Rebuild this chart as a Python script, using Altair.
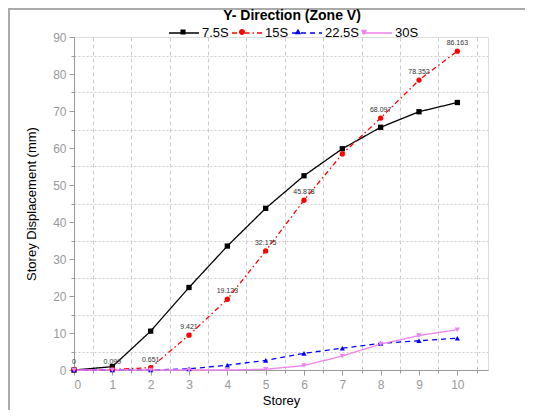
import altair as alt
import pandas as pd

storey = list(range(11))
series = ["7.5S", "15S", "22.5S", "30S"]
s75 = [0, 0.9, 10.5, 22.3, 33.5, 43.7, 52.5, 59.8, 65.6, 69.8, 72.3]
s15 = [0, 0.099, 0.651, 9.421, 19.123, 32.175, 45.878, 58.4, 68.097, 78.352, 86.163]
s225 = [0, 0, 0, 0.3, 1.3, 2.6, 4.5, 5.9, 7.2, 7.9, 8.6]
s30 = [0, 0, 0, 0, 0, 0.2, 1.2, 3.8, 7.0, 9.3, 10.9]
labels15 = ["0", "0.099", "0.651", "9.421", "19.123", "32.175", "45.878", "", "68.097", "78.352", "86.163"]

x_ticks = list(range(11))
x_minor = [i + 0.5 for i in range(11)]
y_ticks = list(range(0, 100, 10))
y_minor = list(range(5, 90, 10))

colors = ["#000000", "#ff0000", "#0000ff", "#ee82ee"]
shapes = ["square", "circle", "triangle-up", "triangle-down"]
legend_marks = [
    "M-1,0L1,0M-0.17,-0.17L0.17,-0.17L0.17,0.17L-0.17,0.17Z",
    "M-1,0L1,0M-0.2,0A0.2,0.2 0 1,0 0.2,0A0.2,0.2 0 1,0 -0.2,0Z",
    "M-1,0L1,0M0,-0.21L0.21,0.15L-0.21,0.15Z",
    "M-1,0L1,0M0,0.21L0.21,-0.15L-0.21,-0.15Z",
]
dashes = [[1, 0], [5, 3, 1.5, 3], [5, 4], [1, 0]]

rows = []
for name, vals in zip(series, [s75, s15, s225, s30]):
    for s, v in zip(storey, vals):
        rows.append({"storey": s, "disp": v, "series": name})
df = pd.DataFrame(rows)
lab = pd.DataFrame({"storey": storey, "disp": s15, "txt": labels15})
lab = lab[lab["txt"] != ""]

FONT = "Liberation Sans"
xs = alt.Scale(domain=[0, 10.8], nice=False, zero=False)
ys = alt.Scale(domain=[0, 90], nice=False)
X0 = alt.X("storey:Q", scale=xs, axis=None)
Y0 = alt.Y("disp:Q", scale=ys, axis=None)

LEG = dict(orient="none", legendX=94, legendY=-20, direction="horizontal", title=None,
           symbolSize=900, labelFont=FONT, labelFontSize=13, labelOffset=2,
           columnPadding=0, symbolOffset=0, padding=0)

base = alt.Chart(df)

grid = base.mark_point(opacity=0).encode(
    x=alt.X("storey:Q", scale=xs, axis=alt.Axis(orient="bottom", values=x_minor, labels=False, title=None,
            domain=False, tickSize=3, tickColor="#999999", grid=True, gridDash=[4, 3], gridColor="#cccccc")),
    y=alt.Y("disp:Q", scale=ys, axis=alt.Axis(orient="left", values=y_minor, labels=False, title=None,
            domain=False, tickSize=3, tickColor="#999999", grid=True, gridDash=[2, 2], gridColor="#cccccc")),
)

main_axes = base.mark_point(opacity=0).encode(
    x=alt.X("storey:Q", scale=xs, axis=alt.Axis(orient="bottom", values=x_ticks, title="Storey", grid=False,
            tickSize=5, tickColor="#999999", domainColor="#999999", labelColor="#999999", labelFontSize=12,
            labelFont=FONT, titleFont=FONT, titleFontSize=13, titleFontWeight="normal", titleColor="#000000",
            labelPadding=4, titlePadding=4)),
    y=alt.Y("disp:Q", scale=ys, axis=alt.Axis(orient="left", values=y_ticks, title="Storey Displacement (mm)",
            grid=False, tickSize=5, tickColor="#999999", domainColor="#999999", labelColor="#999999",
            labelFontSize=12, labelFont=FONT, titleFont=FONT, titleFontSize=13, titleFontWeight="normal",
            titleColor="#000000", labelPadding=3, titlePadding=14)),
)

legA = alt.Legend(symbolType="stroke", symbolStrokeWidth=1.5, labelColor="#000000", **LEG)
lines = base.mark_line(strokeWidth=1.3).encode(
    x=X0, y=Y0,
    color=alt.Color("series:N", scale=alt.Scale(domain=series, range=colors), legend=legA),
    strokeDash=alt.StrokeDash("series:N", scale=alt.Scale(domain=series, range=dashes), legend=legA),
)

points = base.mark_point(filled=True, size=28, opacity=1).encode(
    x=X0, y=Y0,
    color=alt.Color("series:N", scale=alt.Scale(domain=series, range=colors), legend=None),
    shape=alt.Shape("series:N", scale=alt.Scale(domain=series, range=shapes), legend=None),
)

legB = alt.Legend(symbolStrokeColor="transparent", symbolStrokeWidth=0, labelColor="transparent", **LEG)
legend_layer = base.transform_filter("false").mark_point(filled=True, opacity=1).encode(
    x=X0, y=Y0,
    color=alt.Color("series:N", scale=alt.Scale(domain=series, range=colors), legend=legB),
    shape=alt.Shape("series:N", scale=alt.Scale(domain=series, range=legend_marks), legend=legB),
)

texts = alt.Chart(lab).mark_text(fontSize=7, font=FONT, color="#333333", dy=-8).encode(
    x=X0, y=Y0, text="txt:N",
)

# faint frame of the figure (left and top edges)
frame_left = alt.Chart(lab).mark_rule(color="#aaaaaa", strokeWidth=1.5).encode(
    x=alt.value(-65.3), y=alt.value(-29), y2=alt.value(400))
frame_top = alt.Chart(lab).mark_rule(color="#aaaaaa", strokeWidth=1.5).encode(
    x=alt.value(-66), x2=alt.value(470), y=alt.value(-28.3))

chart = alt.layer(grid, main_axes, lines, points, texts, legend_layer, frame_left, frame_top).resolve_axis(
    x="independent", y="independent"
).resolve_scale(color="independent", shape="independent", strokeDash="independent").properties(
    width=414, height=333,
    title=alt.TitleParams("Y- Direction (Zone V)", font=FONT, fontSize=14, fontWeight="bold",
                          anchor="middle", dx=11, dy=13, offset=-3, color="#000000"),
    autosize=alt.AutoSizeParams(type="none"),
    padding={"left": 66, "top": 29, "right": 37, "bottom": 40},
).configure_view(stroke=None).configure(background="white")

chart.save("out.html", embed_options={"renderer": "svg", "actions": False})
